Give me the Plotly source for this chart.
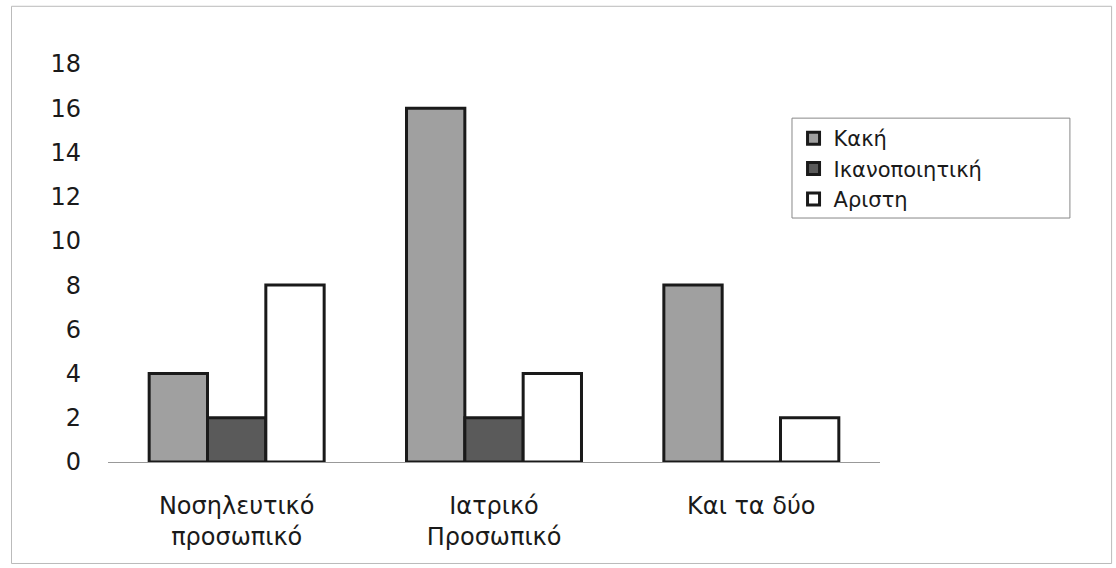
import plotly.graph_objects as go

categories = ["Νοσηλευτικό<br>προσωπικό", "Ιατρικό<br>Προσωπικό", "Και τα δύο"]
series_names = ["Κακή", "Ικανοποιητική", "Αριστη"]
kaki = [4, 16, 8]
ikanopoiitiki = [2, 2, 0]
aristi = [8, 4, 2]
y_ticks = [0, 2, 4, 6, 8, 10, 12, 14, 16, 18]

colors = ["#a0a0a0", "#5a5a5a", "#ffffff"]
values = [kaki, ikanopoiitiki, aristi]

fig = go.Figure()
for name, vals, col in zip(series_names, values, colors):
    fig.add_trace(go.Bar(
        x=categories, y=vals, name=name,
        marker=dict(color=col, line=dict(color="#1a1a1a", width=3)),
    ))

font_family = "DejaVu Sans, Arial, sans-serif"
fig.update_layout(
    width=1116, height=568,
    margin=dict(l=108, r=236, t=64, b=106),
    paper_bgcolor="white", plot_bgcolor="white",
    barmode="group", bargap=0.32, bargroupgap=0,
    font=dict(family=font_family, size=22, color="#1a1a1a"),
    showlegend=True,
    legend=dict(
        x=0.888, y=0.864, xanchor="left", yanchor="top",
        bgcolor="rgba(0,0,0,0)", borderwidth=0,
        font=dict(size=21, family=font_family, color="#1a1a1a"),
        itemwidth=30,
    ),
    xaxis=dict(
        showgrid=False, showline=True, linecolor="#999999", linewidth=1,
        ticks="", tickfont=dict(size=24), ticklabelstandoff=22,
    ),
    yaxis=dict(
        range=[0, 18], tickvals=y_ticks, showgrid=False, showline=False,
        zeroline=False, ticks="", tickfont=dict(size=24), ticklabelstandoff=26,
    ),
    shapes=[
        dict(
            type="rect", xref="paper", yref="paper",
            x0=-0.125, x1=1.30, y0=-0.255, y1=1.145,
            line=dict(color="#bbbbbb", width=1), fillcolor="rgba(0,0,0,0)",
            layer="below",
        ),
        dict(
            type="rect", xref="paper", yref="paper",
            x0=0.886, x1=1.246, y0=0.613, y1=0.864,
            line=dict(color="#888888", width=1), fillcolor="white",
            layer="below",
        ),
    ],
)

fig.write_html("out.html")
